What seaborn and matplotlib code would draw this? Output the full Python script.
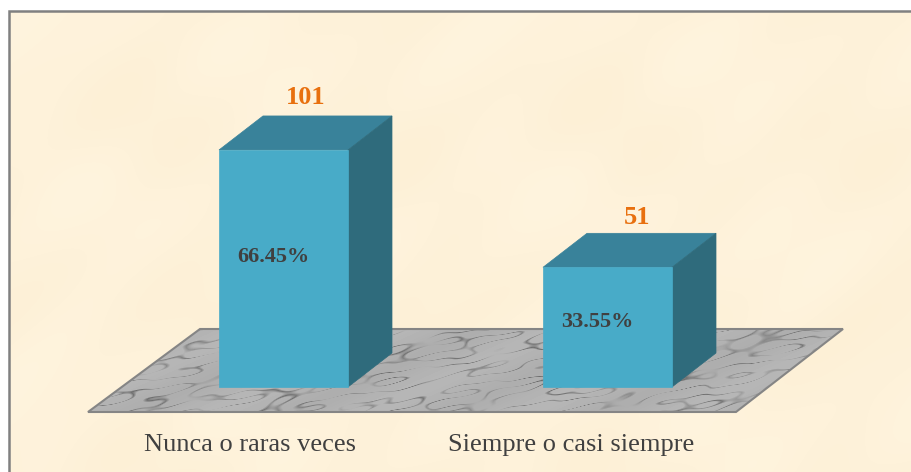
import numpy as np
import matplotlib
matplotlib.use("Agg")
import matplotlib.pyplot as plt
import seaborn as sns
from matplotlib.patches import Polygon, Rectangle
from matplotlib.transforms import ScaledTranslation

categories = ["Nunca o raras veces", "Siempre o casi siempre"]
counts = [101, 51]
percents = ["66.45%", "33.55%"]

W, H = 912, 472
DPI = 100
FRONT = "#48abc8"
TOP = "#39829a"
SIDE = "#2f6b7c"

sns.set_theme(style="white")
plt.rcParams["font.family"] = ["Liberation Serif", "DejaVu Serif"]

fig = plt.figure(figsize=(W / DPI, H / DPI), dpi=DPI, facecolor="white")

# paper and marble textures, just layered sines
bg = fig.add_axes([0, 0, 1, 1], zorder=0)
bg.set_xlim(0, W)
bg.set_ylim(H, 0)
bg.axis("off")

yy, xx = np.mgrid[0:H, 0:W]
paper = (np.sin(xx / 37 + 1.3 * np.sin(yy / 53)) + np.sin(yy / 29 + 1.1 * np.sin(xx / 71))
         + 0.6 * np.sin((xx + yy) / 19)) / 2.6
base = np.array([254, 242, 218]) / 255
paper_rgb = np.clip(base + paper[..., None] * np.array([1, 2, 4]) / 255, 0, 1)
im = bg.imshow(paper_rgb, extent=(0, W, H, 0), aspect="auto", zorder=1)
im.set_clip_path(Rectangle((9, 11), W - 9, H - 11, transform=bg.transData))
bg.plot([9, 9, W], [H, 11, 11], color="#808080", lw=1.8, zorder=5, solid_joinstyle="miter")

# streaky marble: ridges of a sum of unrelated sines, squashed along y
field = np.zeros((H, W))
for fx, fy, ph in [(0.031, 0.17, 0.4), (0.053, 0.29, 1.9), (0.089, 0.13, 3.1), (0.017, 0.41, 5.2),
                   (0.127, 0.37, 2.3), (0.211, 0.23, 4.4), (0.073, 0.53, 0.9), (0.163, 0.61, 3.7)]:
    field += np.sin(fx * xx + fy * yy + ph) / (1 + 4 * fx)
patches = 0.5 + 0.5 * np.sin(xx * 0.023 + 2 * np.sin(yy * 0.07)) * np.sin(xx * 0.067 - yy * 0.11 + 1)
veins = np.clip(1 - np.abs(field) / 0.55, 0, 1) * patches
grey = 178 - 70 * veins + 4 * np.sin(xx * 0.04 + yy * 0.09)
marble = bg.imshow(np.clip(grey, 0, 255), extent=(0, W, H, 0), aspect="auto",
                   cmap="gray", vmin=0, vmax=255, interpolation="bilinear", zorder=2)
floor = Polygon([(88, 412), (736, 412), (843, 329), (200, 329)], closed=True,
                facecolor="none", edgecolor="#858585", lw=1.5, zorder=3)
bg.add_patch(floor)
marble.set_clip_path(floor)

# bars in a clear axes on top, value 0 sits at pixel row 387
px_per_cat = 324
px_per_unit = 2.347
ax = fig.add_axes([0, (H - 412) / H, 1, 412 / H], zorder=1)
ax.patch.set_alpha(0)
df = {"cat": categories, "n": counts}
sns.barplot(data=df, x="cat", y="n", color=FRONT, saturation=1, width=129 / px_per_cat,
            edgecolor=FRONT, linewidth=0.5, ax=ax, zorder=3)
ax.set_xlim(-283.5 / px_per_cat, (W - 283.5) / px_per_cat)
ax.set_ylim(-25 / px_per_unit, 387 / px_per_unit)
ax.set_xlabel("")
ax.set_ylabel("")
ax.set_yticks([])
sns.despine(ax=ax, left=True, bottom=True)
ax.tick_params(axis="x", length=0, pad=16, labelsize=19, labelcolor="#404040")
for lab, move in zip(ax.get_xticklabels(), [-34, -36.5]):
    shift = ScaledTranslation(move / DPI, 0, fig.dpi_scale_trans)
    lab.set_transform(lab.get_transform() + shift)

# depth of the box faces
dx = 44 / px_per_cat
dy = 34 / px_per_unit
label_off = [(22, 52), (30, 50)]
pct_off = [(-10, -107), (-10, -55)]
for bar, n, pct, off, poff in zip(ax.patches, counts, percents, label_off, pct_off):
    x0 = bar.get_x()
    x1 = x0 + bar.get_width()
    top = bar.get_height()
    ax.add_patch(Polygon([(x0, top), (x1, top), (x1 + dx, top + dy), (x0 + dx, top + dy)],
                         facecolor=TOP, edgecolor=TOP, lw=0.5, zorder=2))
    ax.add_patch(Polygon([(x1, 0), (x1 + dx, dy), (x1 + dx, top + dy), (x1, top)],
                         facecolor=SIDE, edgecolor=SIDE, lw=0.5, zorder=2))
    cx = (x0 + x1) / 2
    ax.annotate(str(n), (cx, top), xytext=(off[0] * 72 / DPI, off[1] * 72 / DPI),
                textcoords="offset points", ha="center", va="center",
                color="#e8700f", fontsize=19, fontweight="bold", zorder=6)
    ax.annotate(pct, (cx, top), xytext=(poff[0] * 72 / DPI, poff[1] * 72 / DPI),
                textcoords="offset points", ha="center", va="center",
                color="#404040", fontsize=16, fontweight="bold", zorder=6)

fig.savefig("out.png", dpi=DPI)
